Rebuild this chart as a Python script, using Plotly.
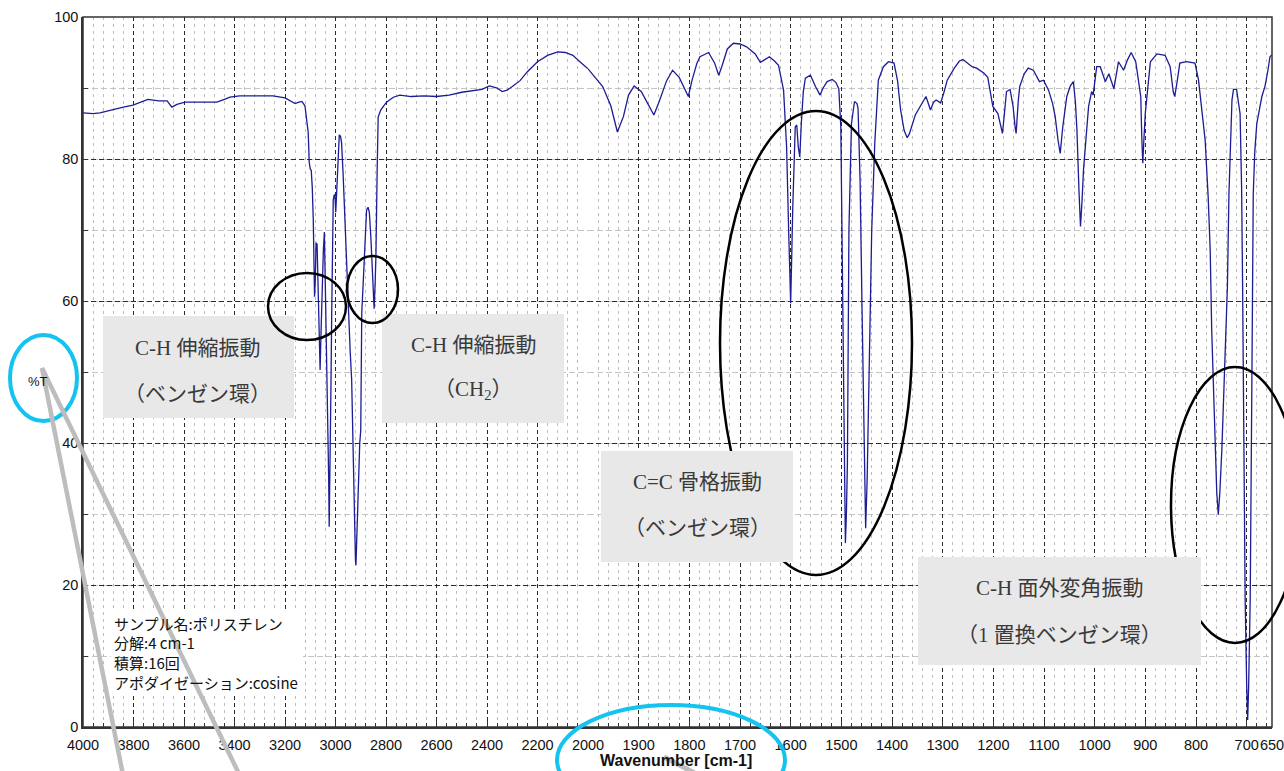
import numpy as np
import plotly.graph_objects as go

# ---------------- data ----------------
# 4000-3121 cm-1 : baseline
wn_base = [4000, 3960, 3933, 3880, 3840, 3802, 3770, 3743, 3700, 3667,
           3648, 3628, 3596, 3530, 3470, 3440, 3418, 3380, 3351, 3300,
           3248, 3200, 3172, 3160, 3145, 3133, 3121]
t_base = [86.5, 86.4, 86.5, 87.0, 87.3, 87.6, 88.0, 88.4, 88.2, 88.2,
          87.3, 87.7, 88.0, 88.0, 88.0, 88.4, 88.7, 88.9, 88.9, 89.0,
          88.9, 88.6, 88.0, 87.8, 88.0, 88.1, 87.5]

# 3113-2745 cm-1 : C-H stretching
wn_ch = [3113, 3108, 3104, 3100, 3096, 3092, 3088, 3085, 3083, 3080,
         3077, 3073, 3068, 3064, 3061, 3057, 3052, 3048, 3044, 3040,
         3038, 3033, 3030, 3027, 3025, 3022, 3018, 3015, 3011, 3009,
         3005, 3002, 2999, 2996, 2992, 2988, 2985, 2980, 2976, 2970,
         2963, 2955, 2949, 2942, 2936, 2930, 2925, 2921, 2919, 2916,
         2910, 2904, 2900, 2896, 2891, 2887, 2882, 2877, 2871, 2866,
         2860, 2855, 2850, 2847, 2843, 2840, 2835, 2831, 2821, 2810,
         2798, 2771, 2745]
t_ch = [85.0, 83.7, 79.5, 78.6, 78.4, 76.0, 71.4, 64.0, 60.6, 63.0,
        68.2, 68.0, 60.0, 53.0, 50.3, 56.0, 64.0, 67.2, 69.7, 62.0,
        58.3, 50.0, 44.2, 35.0, 28.2, 35.0, 48.0, 58.3, 68.0, 74.2,
        75.0, 74.7, 72.5, 75.0, 80.0, 83.0, 83.4, 83.2, 82.3, 78.0,
        71.4, 64.0, 58.7, 53.0, 48.9, 38.0, 28.0, 23.5, 22.8, 26.0,
        34.8, 40.0, 41.8, 58.3, 62.0, 64.8, 69.0, 72.8, 73.2, 72.5,
        69.0, 64.0, 59.4, 58.9, 62.5, 66.2, 78.4, 85.9, 86.9, 87.5,
        88.0, 88.7, 89.0]

# 2700-2000 cm-1
wn_mid = [2700, 2650, 2600, 2550, 2500, 2450, 2420, 2390, 2360, 2340,
          2320, 2300, 2270, 2240, 2200, 2160, 2120, 2090, 2060, 2032,
          2016, 2000]
t_mid = [88.8, 88.9, 88.8, 89.0, 89.4, 89.6, 89.8, 90.3, 90.0, 89.5,
         89.7, 90.2, 91.0, 92.3, 93.7, 94.6, 95.1, 95.0, 94.6, 93.7,
         93.2, 92.7]

# 1985-1396 cm-1 : overtones, C=C skeletal
wn_ring = [1985, 1971, 1955, 1942, 1930, 1920, 1909, 1895, 1882, 1870,
           1860, 1845, 1833, 1820, 1810, 1802, 1795, 1785, 1779, 1762,
           1750, 1742, 1736, 1725, 1713, 1700, 1687, 1670, 1660, 1650,
           1642, 1632, 1624, 1614, 1608, 1604, 1602, 1600, 1598, 1596,
           1591, 1588, 1585, 1582, 1579, 1575, 1571, 1561, 1551, 1542,
           1536, 1528, 1518, 1511, 1505, 1501, 1498, 1496, 1494, 1492,
           1490, 1488, 1485, 1480, 1474, 1469, 1467, 1463, 1459, 1456,
           1454, 1452, 1449, 1447, 1440, 1434, 1427, 1417, 1407, 1396]
t_ring = [91.4, 90.2, 87.5, 83.8, 86.0, 89.0, 90.3, 89.5, 87.8, 86.2,
          88.0, 91.0, 92.5, 91.5, 90.0, 88.8, 91.0, 93.5, 94.4, 95.0,
          93.5, 91.8, 93.0, 95.5, 96.3, 96.2, 95.8, 94.8, 93.6, 94.0,
          94.4, 93.8, 93.2, 89.7, 81.7, 70.0, 62.0, 59.7, 66.0, 72.8,
          84.5, 84.8, 81.7, 80.3, 85.0, 89.5, 91.4, 91.8, 90.2, 89.0,
          90.0, 90.9, 91.2, 90.8, 89.9, 84.5, 65.0, 48.0, 33.0, 25.9,
          30.0, 37.2, 70.0, 85.0, 88.1, 87.8, 87.1, 77.0, 58.3, 42.0,
          32.0, 28.0, 35.0, 41.8, 70.0, 82.2, 91.1, 93.0, 93.7, 93.5]

# 1389-650 cm-1 : fingerprint, C-H out-of-plane bending
wn_fp = [1389, 1383, 1376, 1370, 1366, 1354, 1342, 1333, 1324, 1318,
         1313, 1304, 1297, 1291, 1277, 1267, 1260, 1250, 1242, 1233,
         1219, 1211, 1207, 1201, 1191, 1185, 1182, 1178, 1174, 1167,
         1161, 1157, 1155, 1151, 1148, 1139, 1131, 1121, 1109, 1101,
         1091, 1083, 1078, 1072, 1068, 1063, 1055, 1048, 1042, 1038,
         1035, 1031, 1028, 1025, 1022, 1012, 1006, 1003, 996, 989,
         979, 972, 962, 953, 943, 935, 928, 919, 909, 907,
         905, 903, 900, 890, 877, 861, 851, 845, 842, 837,
         832, 819, 802, 795, 788, 782, 776, 772, 769, 765,
         762, 759, 756, 753, 749, 746, 743, 738, 735, 732,
         729, 726, 720, 713, 710, 708, 706, 703, 700, 698,
         696, 693, 690, 687, 684, 680, 670, 664, 658, 654,
         650]
t_fp = [91.0, 86.9, 84.0, 83.0, 83.5, 86.2, 87.8, 88.8, 86.9, 88.0,
        88.3, 87.9, 89.5, 91.1, 92.8, 93.8, 94.0, 93.5, 93.0, 92.8,
        92.1, 91.5, 89.7, 87.4, 86.4, 84.5, 83.6, 86.5, 89.5, 89.8,
        87.4, 84.5, 83.6, 88.0, 90.2, 92.0, 92.8, 92.5, 90.9, 91.1,
        89.7, 87.8, 86.0, 82.5, 80.8, 84.5, 88.8, 90.3, 90.9, 88.0,
        84.1, 75.6, 70.5, 74.0, 78.5, 87.4, 89.5, 89.0, 93.0, 93.0,
        90.9, 92.0, 89.9, 93.7, 92.5, 94.0, 95.0, 93.7, 88.8, 83.0,
        79.4, 82.5, 86.5, 93.7, 94.8, 94.6, 93.0, 89.5, 88.8, 91.0,
        93.5, 93.7, 93.5, 91.1, 87.0, 82.7, 74.7, 67.2, 55.9, 47.0,
        39.0, 33.0, 29.9, 33.0, 39.0, 46.0, 53.1, 62.0, 75.0, 83.0,
        88.3, 89.8, 89.8, 86.4, 76.0, 62.0, 45.0, 18.0, 6.0, 1.0,
        6.0, 18.0, 46.0, 75.0, 81.0, 85.0, 88.8, 90.2, 92.5, 94.4,
        94.7]

x_ticks_high = [4000, 3800, 3600, 3400, 3200, 3000, 2800, 2600, 2400, 2200]
x_ticks_low = [2000, 1900, 1800, 1700, 1600, 1500, 1400, 1300, 1200, 1100,
               1000, 900, 800, 700, 650]
y_ticks = [0, 20, 40, 60, 80, 100]

info_lines = ["サンプル名:ポリスチレン", "分解:4 cm-1", "積算:16回",
              "アポダイゼーション:cosine"]

wavenumber = np.array(wn_base + wn_ch + wn_mid + wn_ring + wn_fp, dtype=float)
transmittance = np.array(t_base + t_ch + t_mid + t_ring + t_fp, dtype=float)

# ---------------- layout geometry ----------------
W, H = 1284, 771
L, R, T, B = 83, 1272, 17, 727
SPLIT = 588  # pixel of 2000 cm-1 (scale change)


def px(x):
    return (x - L) / (R - L)


def py(y):
    return (B - y) / (B - T)


split = px(SPLIT)
LINE = "#1c1c96"

hi = wavenumber >= 2000
lo = wavenumber <= 2000

fig = go.Figure()
fig.add_trace(go.Scatter(x=wavenumber[hi], y=transmittance[hi], mode="lines",
                         line=dict(color=LINE, width=1.3), xaxis="x", yaxis="y",
                         showlegend=False, hoverinfo="skip"))
fig.add_trace(go.Scatter(x=wavenumber[lo], y=transmittance[lo], mode="lines",
                         line=dict(color=LINE, width=1.3), xaxis="x2", yaxis="y",
                         showlegend=False, hoverinfo="skip"))

tickfont = dict(family="Liberation Sans, Arial, sans-serif", size=14.5, color="#111")
MAJ_GRID = dict(showgrid=True, gridcolor="#2a2a2a", gridwidth=1, griddash="4px,3px")


def xaxis_common(rng, dom, vals, minor_dtick):
    d = dict(range=rng, domain=dom, tickmode="array", tickvals=vals,
             ticktext=[str(v) for v in vals], ticks="inside", ticklen=6,
             tickcolor="#333", tickwidth=1, showline=True, linecolor="#333",
             linewidth=1.5, zeroline=False, tickangle=0, tickfont=tickfont,
             ticklabelstandoff=4, ticklabeloverflow="allow", automargin=False,
             minor=dict(tickmode="linear", tick0=rng[0], dtick=minor_dtick,
                        ticks="inside", ticklen=4, tickcolor="#333",
                        showgrid=True, gridcolor="#bdbdbd", gridwidth=1,
                        griddash="3px,4px"),
             fixedrange=True)
    d.update(MAJ_GRID)
    return d


fig.update_layout(
    template="none",
    width=W, height=H, autosize=False,
    margin=dict(l=L, r=W - R, t=T, b=H - B, pad=0, autoexpand=False),
    paper_bgcolor="white", plot_bgcolor="white",
    xaxis=xaxis_common([4000, 2000], [0, split], x_ticks_high, 40),
    xaxis2=dict(**xaxis_common([2000, 650], [split, 1], x_ticks_low, 20), anchor="y"),
    yaxis=dict(range=[0, 100], domain=[0, 1], anchor="x", tickmode="array",
               tickvals=y_ticks, ticktext=[str(v) for v in y_ticks],
               ticks="inside", ticklen=5, tickcolor="#333", showline=True,
               linecolor="#333", linewidth=1.5, zeroline=False, tickfont=tickfont,
               automargin=False,
               showgrid=True, gridcolor="#2a2a2a", gridwidth=1, griddash="5px,3px",
               minor=dict(tickmode="linear", tick0=0, dtick=10, ticks="inside",
                          ticklen=5, tickcolor="#333", showgrid=True,
                          gridcolor="#c4c4c4", gridwidth=1, griddash="6px,3px"),
               fixedrange=True),
    showlegend=False,
)

shapes = []


def rect(x0, y0, x1, y1, fill, line=None, width=0):
    return dict(type="rect", xref="paper", yref="paper", x0=px(x0), x1=px(x1),
                y0=py(y1), y1=py(y0), fillcolor=fill,
                line=dict(color=line or fill, width=width), layer="above")


def ellipse(x0, y0, x1, y1, color, width):
    return dict(type="circle", xref="paper", yref="paper", x0=px(x0), x1=px(x1),
                y0=py(y1), y1=py(y0), line=dict(color=color, width=width),
                layer="above")


def seg(x0, y0, x1, y1, color, width):
    return dict(type="line", xref="paper", yref="paper", x0=px(x0), x1=px(x1),
                y0=py(y0), y1=py(y1), line=dict(color=color, width=width),
                layer="above")


BOX = "#e8e8e8"
# white background of sample info
shapes.append(rect(111, 612, 303, 693, "white"))
# gray label boxes (first two below the ellipses)
shapes.append(rect(103, 316, 294, 418, BOX))
shapes.append(rect(382, 314, 564, 423, BOX))
# plot frame
shapes.append(dict(type="rect", xref="paper", yref="paper", x0=0, x1=1, y0=0, y1=1,
                   line=dict(color="#333", width=1.5), fillcolor="rgba(0,0,0,0)",
                   layer="above"))
# black ellipses
shapes.append(ellipse(268, 273, 346, 340, "black", 2.5))
shapes.append(ellipse(347, 256, 398, 323, "black", 2.5))
shapes.append(ellipse(720, 111, 912, 575, "black", 2.5))
shapes.append(ellipse(1171, 367, 1299, 643, "black", 2.5))
# gray boxes drawn over the ellipses
shapes.append(rect(601, 451, 793, 562, BOX))
shapes.append(rect(918, 557, 1201, 665, BOX))
# cyan ellipses
CYAN = "#14c3f0"
shapes.append(ellipse(10, 335, 77, 421, CYAN, 4))
shapes.append(ellipse(557, 705, 785, 815, CYAN, 4))
# gray pointer lines
GRAY = "#bdbdbd"
shapes.append(seg(42, 368, 124, 780, GRAY, 4.5))
shapes.append(seg(42, 368, 242, 780, GRAY, 4.5))
shapes.append(seg(664, 757, 706, 779, GRAY, 5))
fig.update_layout(shapes=shapes)

ann = []
LABEL_FONT = dict(family="Liberation Serif, Noto Sans CJK JP", size=21, color="#3a3a3a")


def label(x, y, text):
    ann.append(dict(xref="paper", yref="paper", x=px(x), y=py(y), text=text,
                    showarrow=False, xanchor="center", yanchor="middle",
                    font=LABEL_FONT))


label(197, 348, "C-H 伸縮振動")
label(197, 394, "（ベンゼン環）")
label(473, 345, "C-H 伸縮振動")
label(473, 390, "（CH<sub>2</sub>）")
label(697, 482, "C=C 骨格振動")
label(697, 528, "（ベンゼン環）")
label(1059, 588, "C-H 面外変角振動")
label(1059, 635, "（1 置換ベンゼン環）")

for i, line in enumerate(info_lines):
    ann.append(dict(xref="paper", yref="paper", x=px(112), y=py(623 + 19.7 * i),
                    text=line, showarrow=False, xanchor="left", yanchor="middle",
                    font=dict(family="Noto Sans CJK JP", size=15, color="#111")))

# axis titles
ann.append(dict(xref="paper", yref="paper", x=px(676), y=py(760),
                text="<b>Wavenumber [cm-1]</b>", showarrow=False,
                xanchor="center", yanchor="middle",
                font=dict(family="Liberation Sans, Arial, sans-serif", size=16,
                          color="#111")))
ann.append(dict(xref="paper", yref="paper", x=px(38), y=py(381), text="%T",
                showarrow=False, xanchor="center", yanchor="middle",
                font=dict(family="Liberation Sans, Arial, sans-serif", size=13,
                          color="#111")))
fig.update_layout(annotations=ann)

fig.write_html("out.html", config={"displayModeBar": False},
               post_script="document.body.style.margin='0';document.body.style.overflow='hidden';")
